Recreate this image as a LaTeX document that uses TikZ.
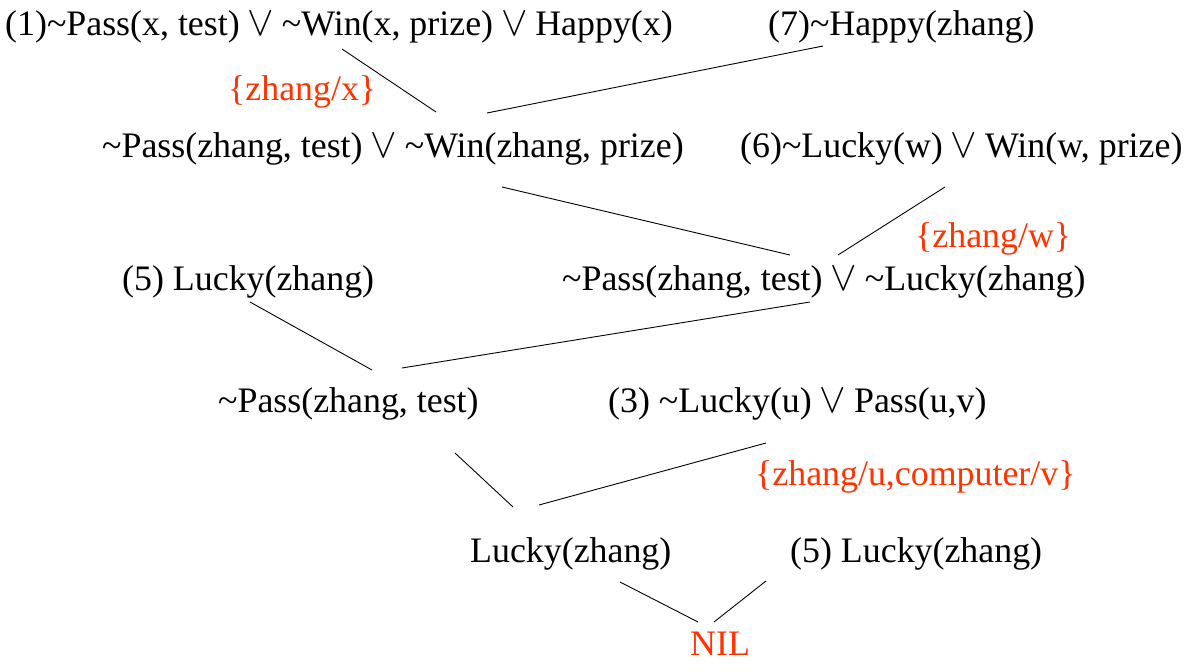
\documentclass[tikz,border=0pt]{standalone}
\usepackage{fontspec}
\usepackage{graphicx}
\setmainfont{Liberation Serif}
\newcommand{\tl}{\textasciitilde}
\newcommand{\orv}{\hspace{0.22em}\scalebox{1.6}[1.7]{$\vee$}\hspace{0.22em}}
\definecolor{subred}{RGB}{255,51,0}
\tikzset{
  clause/.style={anchor=base west, inner sep=0pt, font=\fontsize{36}{40}\selectfont, text=black},
  subst/.style={clause, text=subred},
  link/.style={draw=black, line width=0.9pt}
}
\begin{document}
\begin{tikzpicture}[x=1bp,y=-1bp]
\useasboundingbox (0,0) rectangle (1189,672);
% clauses
\node[clause] (c1) at (5,36) {(1)\tl Pass(x, test)\orv\tl Win(x, prize)\orv Happy(x)};
\node[clause] (c7) at (768,36) {(7)\tl Happy(zhang)};
\node[subst] (s1) at (228,101) {\{zhang/x\}};
\node[clause] (r1) at (102,158) {\tl Pass(zhang, test)\orv\tl Win(zhang, prize)};
\node[clause] (c6) at (740,158) {(6)\tl Lucky(w)\orv Win(w, prize)};
\node[subst] (s2) at (915,247) {\{zhang/w\}};
\node[clause] (c5a) at (122,290) {(5) Lucky(zhang)};
\node[clause] (r2) at (562,290) {\tl Pass(zhang, test)\orv\tl Lucky(zhang)};
\node[clause] (r3) at (218,412) {\tl Pass(zhang, test)};
\node[clause] (c3) at (608,412) {(3) \tl Lucky(u)\orv Pass(u,v)};
\node[subst] (s3) at (755,485) {\{zhang/u,computer/v\}};
\node[clause] (r4) at (470,562) {Lucky(zhang)};
\node[clause] (c5b) at (790,562) {(5) Lucky(zhang)};
\node[subst] (nil) at (690,655) {NIL};
% connector ends
\coordinate (a1) at (342,49);  \coordinate (b1) at (436,112);
\coordinate (a2) at (823,46);  \coordinate (b2) at (487,113);
\coordinate (a3) at (502,187); \coordinate (b3) at (790,255);
\coordinate (a4) at (945,187); \coordinate (b4) at (838,255);
\coordinate (a5) at (250,302); \coordinate (b5) at (372,370);
\coordinate (a6) at (810,302); \coordinate (b6) at (402,368);
\coordinate (a7) at (455,453); \coordinate (b7) at (513,507);
\coordinate (a8) at (766,443); \coordinate (b8) at (539,505);
\coordinate (a9) at (620,582); \coordinate (b9) at (698,622);
\coordinate (a10) at (766,581); \coordinate (b10) at (714,622);
\draw[link] (a1) -- (b1);
\draw[link] (a2) -- (b2);
\draw[link] (a3) -- (b3);
\draw[link] (a4) -- (b4);
\draw[link] (a5) -- (b5);
\draw[link] (a6) -- (b6);
\draw[link] (a7) -- (b7);
\draw[link] (a8) -- (b8);
\draw[link] (a9) -- (b9);
\draw[link] (a10) -- (b10);
\end{tikzpicture}
\end{document}
